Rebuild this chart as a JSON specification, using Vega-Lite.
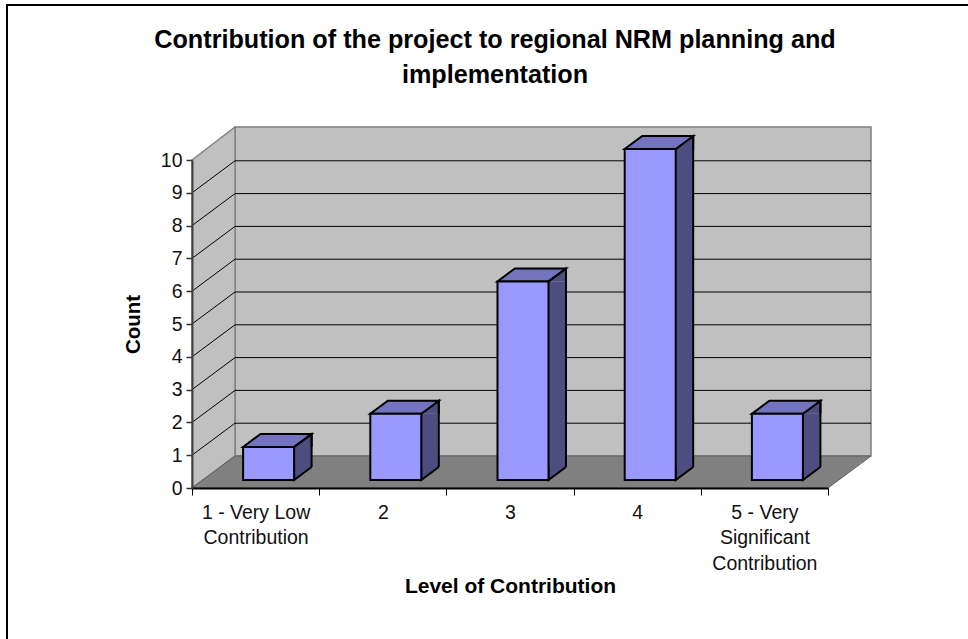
{
"$schema":"https://vega.github.io/schema/vega-lite/v6.json",
"width":636,"height":328,
"autosize":{"type":"none"},
"padding":{"left":192,"top":160,"right":140,"bottom":151},
"background":"white",
"config":{"view":{"stroke":null},"font":"Liberation Sans","point":{"opacity":1}},
"title":{"text":["Contribution of the project to regional NRM planning and","implementation"],"font":"Liberation Sans","fontSize":25.2,"fontWeight":"bold","color":"black","anchor":"middle","dx":-15,"offset":-87,"lineHeight":34.5},
"datasets":{
"bars":[
{"level":"1 - Very Low Contribution","count":1},
{"level":"2","count":2},
{"level":"3","count":6},
{"level":"4","count":10},
{"level":"5 - Very Significant Contribution","count":2}],
"ticks":[{"count":1},{"count":2},{"count":3},{"count":4},{"count":5},{"count":6},{"count":7},{"count":8},{"count":9}],
"one":[{"level":"1 - Very Low Contribution","count":0}]
},
"resolve":{"scale":{"y":"independent"}},
"encoding":{
"x":{"field":"level","type":"nominal","sort":null,"scale":{"domain":["1 - Very Low Contribution","2","3","4","5 - Very Significant Contribution"],"paddingInner":0,"paddingOuter":0},"axis":{"title":"Level of Contribution","titleFont":"Liberation Sans","titleFontSize":21,"titleFontWeight":"bold","titleColor":"black","titlePadding":3,"labelAngle":0,"labelFont":"Liberation Sans","labelFontSize":19.5,"labelColor":"#111111","labelLineHeight":25.5,"labelPadding":8,"labelOverlap":false,"labelLimit":0,"labelExpr":"datum.value=='1 - Very Low Contribution'?['1 - Very Low','Contribution']:datum.value=='5 - Very Significant Contribution'?['5 - Very','Significant','Contribution']:datum.label","tickBand":"extent","tickSize":7,"tickColor":"black","domainColor":"black","domainWidth":2,"zindex":1}}
},
"layer":[
{"data":{"name":"one"},"mark":{"type":"point","filled":false,"size":4,"stroke":"black","strokeWidth":2,"shape":"M-248.6,160 L-248.6,-483 L730,-483"},"encoding":{"y":{"field":"count","type":"quantitative","axis":null,"scale":{"domain":[0,10]}}}},
{"data":{"name":"one"},"mark":{"type":"point","filled":true,"size":4,"fill":"#C0C0C0","stroke":"#808080","strokeWidth":1.5,"shape":"M-20.6,-32 L615.4,-32 L615.4,-361 L-20.6,-361 Z"},"encoding":{"y":{"field":"count","type":"quantitative","axis":null,"scale":{"domain":[0,10]}}}},
{"data":{"name":"one"},"mark":{"type":"point","filled":true,"size":4,"fill":"#C0C0C0","stroke":"#808080","strokeWidth":1.5,"shape":"M-63.6,0 L-63.6,-328 L-20.6,-361 L-20.6,-32 Z"},"encoding":{"y":{"field":"count","type":"quantitative","axis":null,"scale":{"domain":[0,10]}}}},
{"data":{"name":"ticks"},"mark":{"type":"point","filled":false,"size":4,"stroke":"black","strokeWidth":1,"shape":"M-63.6,0 L-20.6,-32 L615.4,-32"},"encoding":{"x":{"datum":"1 - Very Low Contribution"},"y":{"field":"count","type":"quantitative","axis":null,"scale":{"domain":[0,10]}}}},
{"data":{"name":"one"},"mark":{"type":"point","filled":true,"size":4,"fill":"#808080","stroke":"#606060","strokeWidth":1,"shape":"M-63.6,0 L572.4,0 L615.4,-32 L-20.6,-32 Z"},"encoding":{"y":{"field":"count","type":"quantitative","axis":{"title":"Count","titleFont":"Liberation Sans","titleFontSize":20.5,"titleFontWeight":"bold","titleColor":"black","titlePadding":17,"values":[0,1,2,3,4,5,6,7,8,9,10],"labelFont":"Liberation Sans","labelFontSize":19.5,"labelColor":"#111111","labelPadding":4,"tickSize":6,"tickColor":"#303030","tickWidth":1.5,"domainColor":"#404040","domainWidth":2,"grid":false,"zindex":1},"scale":{"domain":[0,10]}}}},
{"data":{"name":"bars"},"mark":{"type":"bar","size":17.5,"xOffset":47.25,"yOffset":-8,"y2Offset":-21,"fill":"#4D4D80","stroke":null},"encoding":{"y":{"field":"count","type":"quantitative","stack":null,"axis":null,"scale":{"domain":[0,10],"range":[328,-3]}},"y2":{"datum":0}}},
{"data":{"name":"bars"},"mark":{"type":"point","filled":true,"size":4,"fill":"#4D4D80","stroke":"black","strokeWidth":2,"shape":"M38.5,-8 L56,-21 L56,-8"},"encoding":{"y":{"field":"count","type":"quantitative","axis":null,"scale":{"domain":[0,10],"range":[328,-3]}}}},
{"data":{"name":"bars"},"mark":{"type":"point","filled":true,"size":4,"fill":"#4D4D80","stroke":"black","strokeWidth":2,"shape":"M56,-21 L38.5,-8 L38.5,-21"},"encoding":{"y":{"datum":0,"type":"quantitative","axis":null,"scale":{"domain":[0,10],"range":[328,-3]}}}},
{"data":{"name":"bars"},"mark":{"type":"rule","xOffset":56,"yOffset":-21,"y2Offset":-21,"stroke":"black","strokeWidth":2},"encoding":{"y":{"field":"count","type":"quantitative","axis":null,"scale":{"domain":[0,10],"range":[328,-3]}},"y2":{"datum":0}}},
{"data":{"name":"bars"},"mark":{"type":"point","filled":true,"size":4,"fill":"#7373BF","stroke":"black","strokeWidth":2,"shape":"M-12.5,-8 L38.5,-8 L56,-21 L5,-21 Z"},"encoding":{"y":{"field":"count","type":"quantitative","axis":null,"scale":{"domain":[0,10],"range":[328,-3]}}}},
{"data":{"name":"bars"},"mark":{"type":"bar","size":51,"xOffset":13,"yOffset":-8,"y2Offset":-8,"fill":"#9999FF","stroke":"black","strokeWidth":2},"encoding":{
"y":{"field":"count","type":"quantitative","stack":null,"axis":null,"scale":{"domain":[0,10],"range":[328,-3]}},"y2":{"datum":0}}}
]
}
